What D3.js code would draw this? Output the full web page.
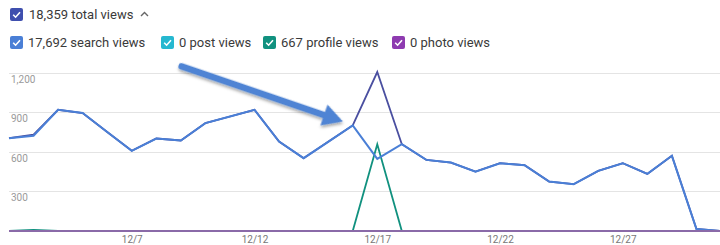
<!DOCTYPE html>
<html><head><meta charset="utf-8">
<script src="https://cdn.jsdelivr.net/npm/d3@7"></script>
<style>
html,body{margin:0;padding:0;background:#fff;}
svg{display:block;font-family:Roboto, "Noto Sans", sans-serif;}
</style></head>
<body><svg id="c" width="720" height="245"></svg>
<script>
// ---- data ----
const days = ["12/2","12/3","12/4","12/5","12/6","12/7","12/8","12/9","12/10","12/11","12/12","12/13","12/14","12/15","12/16","12/17","12/18","12/19","12/20","12/21","12/22","12/23","12/24","12/25","12/26","12/27","12/28","12/29","12/30","12/31"];
const searchViews = [704,722,919,894,750,608,701,686,818,868,919,678,552,676,800,547,658,539,519,450,514,499,375,355,456,514,433,570,15,0];
const profileViews = [0,9,0,0,0,0,0,0,0,0,0,0,0,0,0,658,0,0,0,0,0,0,0,0,0,0,0,0,0,0];
const postViews = days.map(() => 0);
const photoViews = days.map(() => 0);
const totalViews = searchViews.map((v,i) => v + profileViews[i] + postViews[i] + photoViews[i]);
const xTickLabels = ["12/7","12/12","12/17","12/22","12/27"];
const yTicks = [300,600,900,1200];
const legendItems = [
  {label:"17,692 search views", color:"#4a7fd6"},
  {label:"0 post views", color:"#26b8d0"},
  {label:"667 profile views", color:"#11917f"},
  {label:"0 photo views", color:"#8e3bb0"}
];
const totalLabel = "18,359 total views";
// annotation arrow (data space): from [dayIndex, value] to [dayIndex, value]
const arrowFrom = [7.03, 1248];
const arrowTo = [13.6, 830];

// ---- chart ----
const svg = d3.select("#c");
const x = d3.scaleLinear().domain([0, days.length-1]).range([9, 721]);
const y = d3.scaleLinear().domain([0, 1200]).range([231, 72.7]);

const defs = svg.append("defs");
const f = defs.append("filter").attr("id","sh").attr("x","-20%").attr("y","-50%").attr("width","140%").attr("height","200%");
f.append("feDropShadow").attr("dx",1).attr("dy",2).attr("stdDeviation",1.5).attr("flood-color","#000").attr("flood-opacity",0.35);

// gridlines
svg.append("g").selectAll("line").data(yTicks).join("line")
  .attr("x1", 9).attr("x2", 720)
  .attr("y1", d => Math.round(y(d))+0.5).attr("y2", d => Math.round(y(d))+0.5)
  .attr("stroke", "#e4e4e4").attr("stroke-width", 1);
svg.append("g").selectAll("text").data(yTicks).join("text")
  .attr("x", 11).attr("y", d => y(d)+10)
  .attr("font-size", 10).attr("fill", "#9a9a9a")
  .text(d => d3.format(",")(d));

// x axis labels
const xAxis = d3.axisBottom(x).tickValues(xTickLabels.map(l => days.indexOf(l)))
  .tickFormat(i => days[i]).tickSize(0).tickPadding(5);
const gx = svg.append("g").attr("transform","translate(0,231)").call(xAxis);
gx.select(".domain").remove();
gx.selectAll("text").attr("font-size",10).attr("fill","#777").attr("font-family","Roboto, sans-serif");

const line = data => d3.line().x((d,i) => x(i)).y(d => y(d))(data);

svg.append("path").attr("d", line(postViews)).attr("fill","none").attr("stroke", legendItems[1].color).attr("stroke-width",2);
svg.append("path").attr("d", line(profileViews)).attr("fill","none").attr("stroke", legendItems[2].color).attr("stroke-width",1.8);
svg.append("path").attr("d", line(totalViews)).attr("fill","none").attr("stroke", "#4a4fa0").attr("stroke-width",1.8);
svg.append("path").attr("d", line(searchViews)).attr("fill","none").attr("stroke", legendItems[0].color).attr("stroke-width",2);
svg.append("path").attr("d", line(photoViews)).attr("fill","none").attr("stroke", "#8a6aa8").attr("stroke-width",2);

// arrow annotation
{
  const x0 = x(arrowFrom[0]), y0 = y(arrowFrom[1]), x1 = x(arrowTo[0]), y1 = y(arrowTo[1]);
  const ang = Math.atan2(y1-y0, x1-x0);
  const len = Math.hypot(x1-x0, y1-y0);
  const headL = 20, headW = 11, shaftW = 3.2;
  const g = svg.append("g").attr("transform", `translate(${x0},${y0}) rotate(${ang*180/Math.PI})`).attr("filter","url(#sh)");
  const p = d3.path();
  p.moveTo(0,-shaftW); p.lineTo(len-headL,-shaftW); p.lineTo(len-headL,-headW);
  p.lineTo(len,0); p.lineTo(len-headL,headW); p.lineTo(len-headL,shaftW); p.lineTo(0,shaftW);
  p.arc(0,0,shaftW,Math.PI/2,3*Math.PI/2);
  p.closePath();
  g.append("path").attr("d", p.toString()).attr("fill","#4f84d4");
}

// legend
function checkbox(g, cx, cy, color){
  g.append("rect").attr("x",cx).attr("y",cy).attr("width",13).attr("height",13).attr("rx",2).attr("fill",color);
  g.append("path").attr("d",`M${cx+3.2},${cy+6.8} L${cx+5.6},${cy+9.2} L${cx+10},${cy+4.2}`)
    .attr("fill","none").attr("stroke","#fff").attr("stroke-width",1.6);
}
const lg = svg.append("g");
checkbox(lg, 10, 8, "#3f4fae");
lg.append("text").attr("x",29).attr("y",19).attr("font-size",13).attr("fill","#3a3a3a").text(totalLabel);
lg.append("path").attr("d","M141,16 L144.5,12.5 L148,16").attr("fill","none").attr("stroke","#666").attr("stroke-width",1.4);

const legendX = [10, 161, 263, 392];
legendItems.forEach((it,i) => {
  checkbox(lg, legendX[i], 36, it.color);
  lg.append("text").attr("x", legendX[i]+18).attr("y", 47).attr("font-size",13).attr("fill","#3a3a3a").text(it.label);
});
</script></body></html>
